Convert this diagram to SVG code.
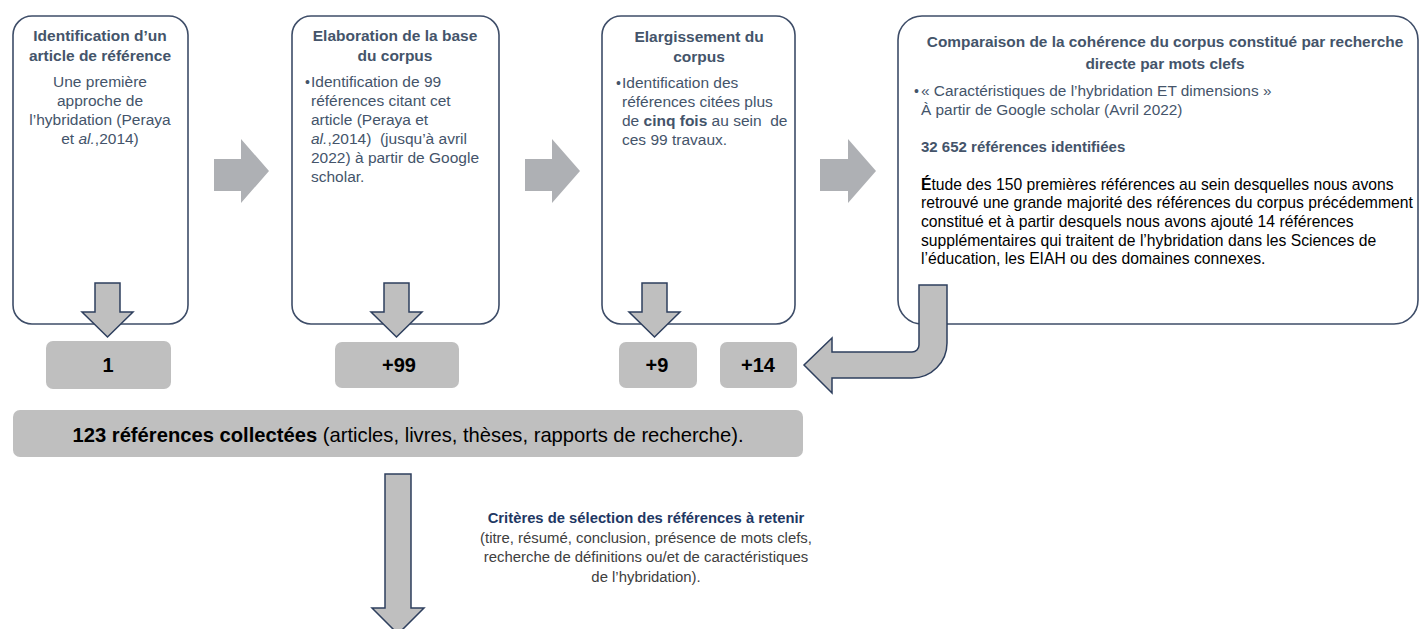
<svg xmlns="http://www.w3.org/2000/svg" width="1421" height="629" viewBox="0 0 1421 629">
<style>
.box{fill:#fff;stroke:#3E4D68;stroke-width:1.6}
.gbox{fill:#BFBFBF}
.t{font-family:"Liberation Sans",Arial,sans-serif;fill:#44546A}
.h{font-weight:bold;font-size:15.5px}
.b{font-size:15.5px}
.bul{font-size:14px}
.num{font-family:"Liberation Sans",Arial,sans-serif;font-weight:bold;font-size:20px;fill:#000}
.rarrow{fill:#AEB0B4}
.darrow{fill:#BFBFBF;stroke:#2E3F5E;stroke-width:1.5;stroke-linejoin:miter}
</style>
<rect width="1421" height="629" fill="#fff"/>

<g id="box1">
<rect class="box" x="13" y="16" width="175" height="308" rx="19"/>
<text class="t h" text-anchor="middle"><tspan x="100" y="41">Identification d’un</tspan><tspan x="100" y="61">article de référence</tspan></text>
<text class="t b" text-anchor="middle"><tspan x="100" y="87">Une première</tspan><tspan x="100" y="106">approche de</tspan><tspan x="100" y="125">l’hybridation (Peraya</tspan><tspan x="100" y="144">et <tspan font-style="italic">al.</tspan>,2014)</tspan></text>
</g>

<g id="box2">
<rect class="box" x="292" y="16" width="207" height="308" rx="19"/>
<text class="t h" text-anchor="middle"><tspan x="395" y="41">Elaboration de la base</tspan><tspan x="395" y="61">du corpus</tspan></text>
<text class="t bul" x="305" y="87">•</text>
<text class="t b"><tspan x="311" y="87">Identification de 99</tspan><tspan x="311" y="106">références citant cet</tspan><tspan x="311" y="125">article (Peraya et</tspan><tspan x="311" y="144"><tspan font-style="italic">al.</tspan>,2014)&#160; (jusqu’à avril</tspan><tspan x="311" y="163">2022) à partir de Google</tspan><tspan x="311" y="182">scholar.</tspan></text>
</g>

<g id="box3">
<rect class="box" x="602" y="16" width="193" height="308" rx="19"/>
<text class="t h" text-anchor="middle"><tspan x="699" y="42">Elargissement du</tspan><tspan x="699" y="62">corpus</tspan></text>
<text class="t bul" x="616" y="88">•</text>
<text class="t b"><tspan x="622" y="88">Identification des</tspan><tspan x="622" y="107">références citées plus</tspan><tspan x="622" y="126">de <tspan font-weight="bold">cinq fois</tspan> au sein&#160; de</tspan><tspan x="622" y="145">ces 99 travaux.</tspan></text>
</g>

<g id="box4">
<rect class="box" x="898" y="16" width="520" height="308" rx="24"/>
<text class="t" font-weight="bold" font-size="15.4" text-anchor="middle"><tspan x="1165" y="47">Comparaison de la cohérence du corpus constitué par recherche</tspan><tspan x="1165" y="69">directe par mots clefs</tspan></text>
<text class="t bul" x="914" y="96">•</text>
<text class="t" font-size="15.4"><tspan x="921" y="96">« Caractéristiques de l’hybridation ET dimensions »</tspan><tspan x="921" y="115">À partir de Google scholar (Avril 2022)</tspan></text>
<text class="t" font-size="15" font-weight="bold" x="921" y="152">32 652 références identifiées</text>
<text font-family="Liberation Sans, Arial, sans-serif" font-size="15.7" fill="#000"><tspan x="921" y="190"><tspan font-weight="bold">É</tspan>tude des 150 premières références au sein desquelles nous avons</tspan><tspan x="921" y="208">retrouvé une grande majorité des références du corpus précédemment</tspan><tspan x="921" y="227">constitué et à partir desquels nous avons ajouté 14 références</tspan><tspan x="921" y="246">supplémentaires qui traitent de l’hybridation dans les Sciences de</tspan><tspan x="921" y="264">l’éducation, les EIAH ou des domaines connexes.</tspan></text>
</g>

<g id="count1">
<rect class="gbox" x="46" y="341" width="125" height="48" rx="7"/>
<text class="num" x="108" y="372" text-anchor="middle">1</text>
</g>
<g id="count99">
<rect class="gbox" x="335" y="342" width="124" height="46" rx="7"/>
<text class="num" x="399" y="372" text-anchor="middle">+99</text>
</g>
<g id="count9">
<rect class="gbox" x="619" y="342" width="78" height="46" rx="7"/>
<text class="num" x="657" y="372" text-anchor="middle">+9</text>
</g>
<g id="count14">
<rect class="gbox" x="720" y="342" width="77" height="46" rx="7"/>
<text class="num" x="758" y="372" text-anchor="middle">+14</text>
</g>

<g id="total">
<rect class="gbox" x="13" y="410" width="790" height="47" rx="7"/>
<text font-family="Liberation Sans, Arial, sans-serif" font-size="20.2" fill="#000" x="408" y="442" text-anchor="middle"><tspan font-weight="bold">123 références collectées</tspan> (articles, livres, thèses, rapports de recherche).</text>
</g>

<g id="criteria">
<text font-family="Liberation Sans, Arial, sans-serif" font-size="14.8" font-weight="bold" fill="#1F3864" x="646" y="523" text-anchor="middle">Critères de sélection des références à retenir</text>
<text font-family="Liberation Sans, Arial, sans-serif" font-size="14.9" fill="#404040" text-anchor="middle"><tspan x="646" y="543">(titre, résumé, conclusion, présence de mots clefs,</tspan><tspan x="646" y="562">recherche de définitions ou/et de caractéristiques</tspan><tspan x="646" y="582">de l’hybridation).</tspan></text>
</g>

<g id="connectors">
<polygon class="rarrow" points="214,159 241,159 241,139 269,171 241,203 241,191 214,191"/>
<polygon class="rarrow" points="525,159 552,159 552,139 580,171 552,203 552,191 525,191"/>
<polygon class="rarrow" points="820,159 848,159 848,139 876,171 848,203 848,191 820,191"/>
<polygon class="darrow" points="95,283 120,283 120,312 133,312 107.5,337 82,312 95,312"/>
<polygon class="darrow" points="384,283 409,283 409,312 422,312 396.5,337 371,312 384,312"/>
<polygon class="darrow" points="642,283 667,283 667,312 680,312 654.5,337 629,312 642,312"/>
<path class="darrow" d="M919,285 L947,285 L947,343 A35,35 0 0 1 912,378 L832,378 L832,393 L804,365 L832,338 L832,352 L912,352 A7,7 0 0 0 919,345 Z"/>
<polygon class="darrow" points="385,474 411,474 411,608 424,608 398,634 372,608 385,608"/>
</g>
</svg>
